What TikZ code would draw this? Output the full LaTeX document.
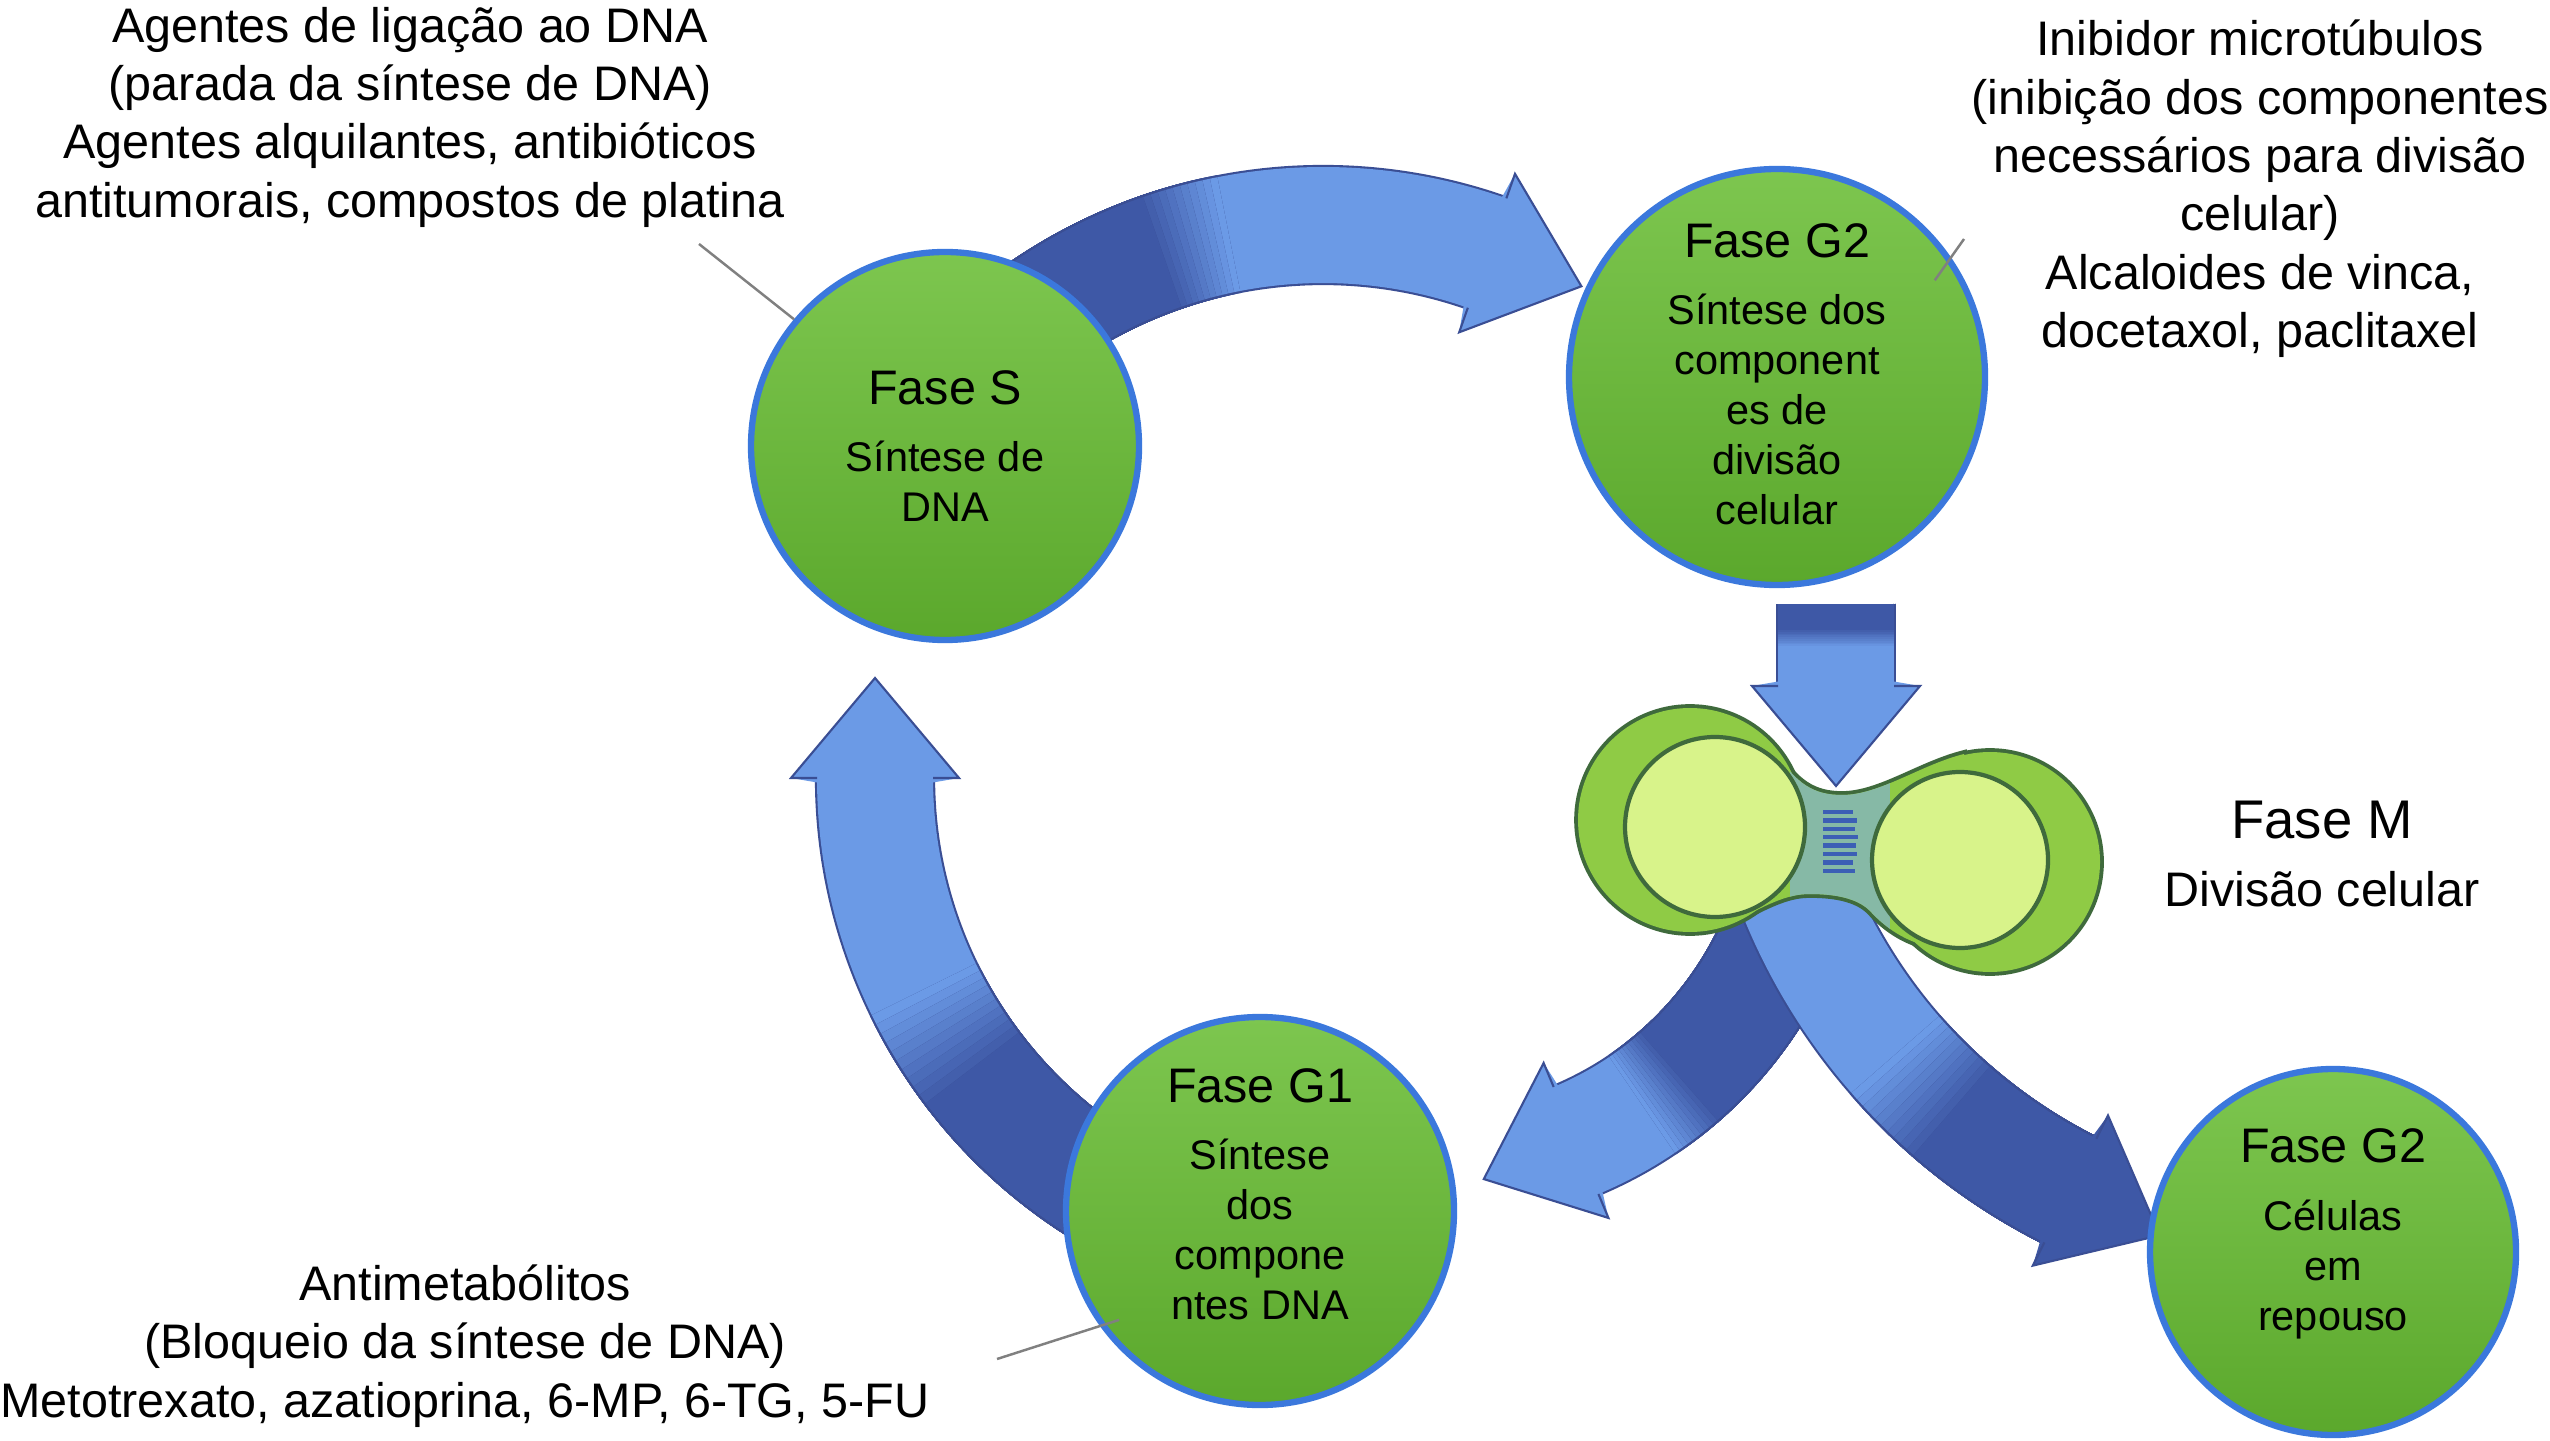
\documentclass[tikz,border=0pt]{standalone}
\usepackage{fontspec}
\setmainfont{Liberation Sans}
\usetikzlibrary{calc}

\definecolor{blight}{HTML}{6B9AE6}
\definecolor{bdark}{HTML}{3E58A6}
\definecolor{bedge}{HTML}{3A4E94}
\definecolor{cborder}{HTML}{3B78DC}
\definecolor{gtop}{HTML}{7DC64F}
\definecolor{gbot}{HTML}{5BA82C}
\definecolor{cellout}{HTML}{8FCB45}
\definecolor{cellin}{HTML}{D8F38A}
\definecolor{celledge}{HTML}{3F6A3C}
\definecolor{neckcol}{HTML}{86B9A6}
\definecolor{stripecol}{HTML}{3C5FB5}

\newcommand{\notefont}{\fontsize{13.8}{16.6}\selectfont}
\newcommand{\phasefont}{\fontsize{13.8}{16}\selectfont}
\newcommand{\cellfont}{\fontsize{11.8}{14.2}\selectfont}

% curved band: centre, radius, dark end, fully light at, fully dark at, light end
\newcommand{\fatband}[6]{%
  \draw[band, double=blight] ($(#1)+(#3:#2)$) arc[start angle=#3, end angle=#6, radius=#2];
  \foreach \i in {0,...,10} {
    \pgfmathsetmacro{\e}{#4+(#5-#4)*\i/10}
    \pgfmathsetmacro{\p}{\i*10}
    \draw[band, double=bdark!\p!blight] ($(#1)+(#3:#2)$) arc[start angle=#3, end angle=\e, radius=#2];
  }}

% head of a fat arrow: centre, radius, angle, tangent, colour
\newcommand{\fathead}[5]{%
  \fill[#5] ($(#1)+(#3:#2+0.55)+(#4:-0.05)$) -- ($(#1)+(#3:#2+0.84)$) -- ($(#1)+(#3:#2)+(#4:1.0)$)
    -- ($(#1)+(#3:#2-0.84)$) -- ($(#1)+(#3:#2-0.55)+(#4:-0.05)$) -- cycle;
  \draw[bandline] ($(#1)+(#3:#2+0.58)$) -- ($(#1)+(#3:#2+0.84)$) -- ($(#1)+(#3:#2)+(#4:1.0)$)
    -- ($(#1)+(#3:#2-0.84)$) -- ($(#1)+(#3:#2-0.58)$);}

\tikzset{
  phase/.style={circle, draw=cborder, line width=1.8pt, top color=gtop, bottom color=gbot, inner sep=0pt},
  phasetext/.style={align=center, font=\cellfont},
  band/.style={draw=bedge, line width=0.6pt, double distance=1.16cm},
  bandline/.style={draw=bedge, line width=0.6pt, line join=miter},
  leader/.style={draw=gray, line width=0.7pt},
  note/.style={align=center, font=\notefont},
}

\begin{document}
\begin{tikzpicture}
	\useasboundingbox (0,0) rectangle (25.5,14.4);
	\fill[white] (0,0) rectangle (25.5,14.4);
	
	\coordinate (cA) at (13.23,7.21);
	\coordinate (cD) at (13.57,6.62);
	\coordinate (cC) at (14.29,6.51);
	\coordinate (cE) at (23.26,7.60);
	\coordinate (btop) at (18.36,8.36);
	\coordinate (bbase) at (18.36,7.54);
	
	% M -> G1
	\fatband{cC}{3.81}{345}{304}{311}{292.7}
	\fathead{cC}{3.81}{292.7}{202.7}{blight}
	
	% M -> G2 (repouso)
	\fatband{cE}{5.71}{243.4}{221}{229}{200}
	\fathead{cE}{5.71}{243.4}{333.4}{bdark}
	
	% G2 -> M
	\draw[band, double=blight] (btop) -- (bbase);
	\foreach \i in {0,...,10} {
		\pgfmathsetmacro{\e}{7.92+0.018*\i}
		\pgfmathsetmacro{\p}{\i*10}
		\draw[band, double=bdark!\p!blight] (btop) -- (18.36,\e);
	}
	\fathead{bbase}{0}{0}{-90}{blight}
	
	% S -> G2
	\fatband{cA}{4.94}{135}{101}{109}{70.6}
	\fathead{cA}{4.94}{70.6}{-19.4}{blight}
	
	% G1 -> S
	\fatband{cD}{4.82}{245}{206}{217}{180}
	\fathead{cD}{4.82}{180}{90}{blight}
	
	% dividing cell
	\def\neckpath{(17.74,6.92) .. controls (17.95,6.55) and (18.15,6.45) .. (18.42,6.45)
		.. controls (18.80,6.45) and (19.20,6.75) .. (19.64,6.86) -- (19.90,5.78) -- (19.17,4.97)
		.. controls (19.00,5.03) and (18.85,5.13) .. (18.71,5.28)
		.. controls (18.60,5.40) and (18.40,5.46) .. (18.10,5.46)
		.. controls (17.95,5.46) and (17.80,5.42) .. (17.53,5.28) -- (16.90,6.20) -- cycle}
	\draw[celledge, line width=2.2pt] (16.90,6.20) circle (1.12) (19.90,5.78) circle (1.10);
	\draw[celledge, line width=2.2pt] \neckpath;
	\fill[cellout] (16.90,6.20) circle (1.12) (19.90,5.78) circle (1.10);
	\fill[cellout] \neckpath;
	\begin{scope}
		\clip \neckpath;
		\fill[neckcol] (17.90,5.0) rectangle (18.90,7.0);
	\end{scope}
	\draw[celledge, line width=1.2pt, fill=cellin] (17.15,6.13) circle (0.90);
	\draw[celledge, line width=1.2pt, fill=cellin] (19.60,5.80) circle (0.88);
	\foreach \k/\w in {0/0.30,1/0.34,2/0.32,3/0.35,4/0.33,5/0.34,6/0.30,7/0.32}
		\draw[stripecol, line width=1.3pt] (18.23,6.28-\k*0.084) -- ++(\w,0);
	
	% phases
	\node[phase, minimum size=3.88cm] (S) at (9.45,9.94) {};
	\node[phase, minimum size=4.16cm] (G2t) at (17.77,10.63) {};
	\node[phase, minimum size=3.88cm] (G1) at (12.60,2.29) {};
	\node[phase, minimum size=3.66cm] (G2b) at (23.33,1.88) {};
	\node[phasetext] (Stxt) at (S) {{\phasefont Fase S}\\[5pt] Síntese de\\DNA};
	\node[phasetext] (G2ttxt) at ($(G2t)+(0,0.03)$) {{\phasefont Fase G2}\\[5pt] Síntese dos\\component\\es de\\divisão\\celular};
	\node[phasetext] (G1txt) at ($(G1)+(0,0.17)$) {{\phasefont Fase G1}\\[5pt] Síntese\\dos\\compone\\ntes DNA};
	\node[phasetext] (G2btxt) at ($(G2b)+(0,0.18)$) {{\phasefont Fase G2}\\[5pt] Células\\em\\repouso};
	
	% notes
	\node[note] (tl) at (4.10,13.23) {Agentes de ligação ao DNA\\(parada da síntese de DNA)\\Agentes alquilantes, antibióticos\\antitumorais, compostos de platina};
	\node[note] (tr) at (22.60,12.51) {Inibidor microtúbulos\\(inibição dos componentes\\necessários para divisão\\celular)\\Alcaloides de vinca,\\docetaxol, paclitaxel};
	\node[note] (ml) at (23.22,5.86) {{\fontsize{15.5}{18}\selectfont Fase M}\\[3pt] Divisão celular};
	\node[note] (bl) at (4.65,0.94) {Antimetabólitos\\(Bloqueio da síntese de DNA)\\Metotrexato, azatioprina, 6-MP, 6-TG, 5-FU};
	
	% leader lines
	\coordinate (tlend) at (6.99,11.96);
	\coordinate (trin) at ($(G2t)+(31.5:1.85)$);
	\coordinate (trend) at (19.64,12.01);
	\coordinate (blend) at (9.97,0.81);
	\draw[leader] (tlend) -- (S.140);
	\draw[leader] (trin) -- (trend);
	\draw[leader] (blend) -- ($(G1)+(217.7:1.78)$);
\end{tikzpicture}
\end{document}
